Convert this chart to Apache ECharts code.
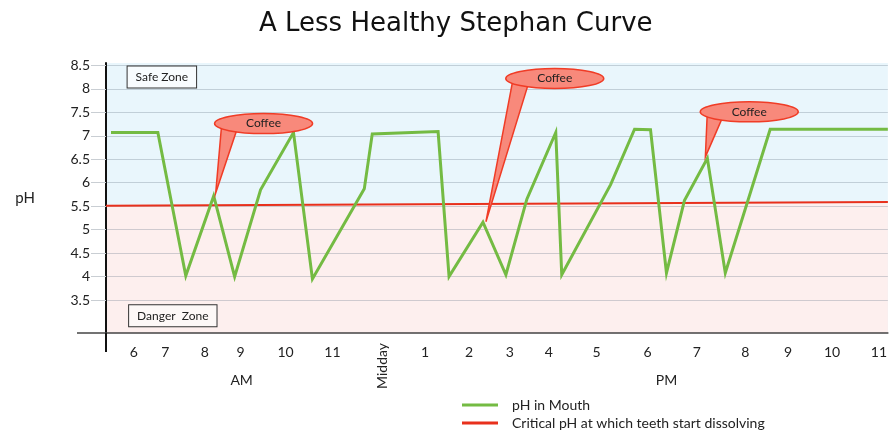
<!DOCTYPE html>
<html>
<head>
<meta charset="utf-8">
<script src="https://cdn.jsdelivr.net/npm/echarts@6/dist/echarts.min.js"></script>
<style>
  html, body { margin: 0; padding: 0; background: #fff; }
  #main { width: 890px; height: 432px; }
</style>
</head>
<body>
<div id="main"></div>
<script>
// x positions follow the hand-placed time labels of the original
var tickPos = [2.8, 5.95, 9.9, 13.5, 18.0, 22.7, 32.0, 36.4, 40.5, 44.4, 49.2, 54.3, 59.25, 64.1, 68.4, 72.8, 77.5];
var tickLabels = ['6', '7', '8', '9', '10', '11', '1', '2', '3', '4', '5', '6', '7', '8', '9', '10', '11'];
var middayPos = [27.75];
var periodPos = [13.6, 56.2];
var periodLabels = ['AM', 'PM'];
var yTicks = [3.5, 4, 4.5, 5, 5.5, 6, 6.5, 7, 7.5, 8, 8.5];

var phX = [0.5, 5.2, 8.0, 10.8, 12.9, 15.5, 18.8, 20.7, 25.9, 26.7, 33.3, 34.4, 37.8, 40.1, 42.2, 45.1, 45.7, 50.6, 53.0, 54.6, 56.2, 58.0, 60.3, 62.1, 66.6, 78.4];
var phY = [7.07, 7.07, 4.02, 5.72, 4.0, 5.85, 7.07, 3.95, 5.87, 7.04, 7.09, 4.0, 5.16, 4.04, 5.65, 7.07, 4.04, 5.96, 7.14, 7.13, 4.08, 5.62, 6.52, 4.08, 7.14, 7.14];

var critX = [0, 78.4];
var critY = [5.51, 5.59];

var coffeeTipX = [11.0, 38.1, 60.1];
var coffeeTipY = [5.78, 5.17, 6.55];
var coffeeBubbleX = [15.8, 45.0, 64.5];
var coffeeBubbleY = [7.26, 8.22, 7.51];

var FONT = 'Lato';
var xMin = 0, xMax = 78.4, yMin = 2.8, yMax = 8.55;

function pairs(xs, ys) {
    var out = [];
    for (var i = 0; i < xs.length; i++) out.push([xs[i], ys[i]]);
    return out;
}

function nearestLabel(v, pos, labels) {
    var best = 0;
    for (var i = 1; i < pos.length; i++) {
        if (Math.abs(pos[i] - v) < Math.abs(pos[best] - v)) best = i;
    }
    return labels[best];
}

function renderCoffee(params, api) {
    var tip = api.coord([api.value(0), api.value(1)]);
    var c = api.coord([api.value(2), api.value(3)]);
    var fill = '#f8897b', stroke = '#f03c26';
    return {
        type: 'group',
        children: [
            {type: 'polygon', shape: {points: [tip, [c[0] - 42, c[1] + 2], [c[0] - 26, c[1] + 4]]},
             style: {fill: fill, stroke: stroke, lineWidth: 1.5}},
            {type: 'ellipse', shape: {cx: c[0], cy: c[1], rx: 49, ry: 10},
             style: {fill: fill, stroke: stroke, lineWidth: 1.5}},
            {type: 'text', style: {x: c[0], y: c[1], text: 'Coffee', align: 'center', verticalAlign: 'middle',
             fill: '#222', font: '12px ' + FONT}}
        ]
    };
}

var coffeeData = [];
for (var i = 0; i < coffeeTipX.length; i++) {
    coffeeData.push([coffeeTipX[i], coffeeTipY[i], coffeeBubbleX[i], coffeeBubbleY[i]]);
}

var boxLabel = function (text, bg) {
    return {
        show: true, position: 'inside', formatter: text,
        color: '#222', fontFamily: FONT, fontSize: 12,
        backgroundColor: bg, borderColor: '#333', borderWidth: 1,
        padding: [5, 8, 4, 8]
    };
};

var chart = echarts.init(document.getElementById('main'));
var option = {
    animation: false,
    textStyle: {fontFamily: FONT},
    title: {
        text: 'A Less Healthy Stephan Curve',
        left: 254, top: 6,
        textStyle: {fontFamily: 'DejaVu Sans', fontSize: 26, fontWeight: 'normal', color: '#111'}
    },
    legend: {
        orient: 'vertical', left: 457, top: 393, height: 40,
        icon: 'rect', itemWidth: 36, itemHeight: 3, itemGap: 4,
        textStyle: {fontFamily: FONT, fontSize: 14, color: '#222', padding: [0, 0, 0, 9]},
        data: ['pH in Mouth', 'Critical pH at which teeth start dissolving']
    },
    grid: {
        left: 106, right: 0, top: 63, bottom: 99,
        show: true, backgroundColor: '#e9f6fc', borderWidth: 0, z: -5
    },
    xAxis: [{
        type: 'value', min: xMin, max: xMax,
        axisLine: {show: true, onZero: false, lineStyle: {color: '#444', width: 1.5}},
        axisTick: {show: false},
        splitLine: {show: false},
        axisLabel: {
            customValues: tickPos, margin: 12, color: '#222', fontSize: 14, fontFamily: FONT,
            formatter: function (v) { return nearestLabel(v, tickPos, tickLabels); }
        }
    }, {
        // Midday label stands upright, and the left axis runs on below the baseline
        type: 'value', min: xMin, max: xMax, position: 'bottom',
        axisLine: {show: false}, splitLine: {show: false},
        axisTick: {show: true, customValues: [xMin], length: 19, lineStyle: {color: '#111', width: 2}},
        axisLabel: {
            customValues: middayPos, rotate: 90, margin: 10, color: '#222', fontSize: 14, fontFamily: FONT,
            formatter: function () { return 'Midday'; }
        }
    }, {
        type: 'value', min: xMin, max: xMax, position: 'bottom',
        axisLine: {show: false}, axisTick: {show: false}, splitLine: {show: false},
        axisLabel: {
            customValues: periodPos, margin: 40, color: '#222', fontSize: 14, fontFamily: FONT,
            formatter: function (v) { return nearestLabel(v, periodPos, periodLabels); }
        }
    }],
    yAxis: [{
        type: 'value', min: yMin, max: yMax,
        name: 'pH', nameLocation: 'middle', nameRotate: 0, nameGap: 71,
        nameTextStyle: {fontFamily: FONT, fontSize: 15, color: '#222'},
        axisLine: {show: true, lineStyle: {color: '#111', width: 2}},
        axisTick: {show: true, customValues: yTicks, length: 15, lineStyle: {color: '#c9ced3'}},
        axisLabel: {customValues: yTicks, margin: 16, color: '#222', fontSize: 14, fontFamily: FONT},
        splitLine: {show: true, lineStyle: {color: 'rgba(120,135,150,0.35)', width: 1}}
    }, {
        // baseline runs a little past the left axis
        type: 'value', min: yMin, max: yMax, position: 'left',
        axisLine: {show: false}, splitLine: {show: false}, axisLabel: {show: false},
        axisTick: {show: true, customValues: [yMin], length: 29, lineStyle: {color: '#444', width: 1.5}}
    }],
    series: [{
        name: 'danger-fill',
        type: 'line', z: -1, silent: true,
        data: pairs(critX, critY),
        symbol: 'none',
        lineStyle: {width: 0},
        areaStyle: {color: '#fdefee', opacity: 1, origin: 'start'},
        markPoint: {
            symbol: 'rect', symbolSize: 0,
            data: [
                {coord: [5.6, 8.25], label: boxLabel('Safe Zone', '#f8fcfe')},
                {coord: [6.7, 3.17], label: boxLabel('Danger  Zone', '#fdf8f7')}
            ]
        }
    }, {
        name: 'Critical pH at which teeth start dissolving',
        type: 'line', z: 3,
        data: pairs(critX, critY),
        symbol: 'none',
        itemStyle: {color: '#e8301c'},
        lineStyle: {color: '#e8301c', width: 2}
    }, {
        name: 'pH in Mouth',
        type: 'line', z: 4,
        data: pairs(phX, phY),
        symbol: 'none',
        itemStyle: {color: '#74bb43'},
        lineStyle: {color: '#74bb43', width: 3, join: 'miter'}
    }, {
        name: 'coffee',
        type: 'custom', z: 5,
        renderItem: renderCoffee,
        encode: {x: 0, y: 1},
        clip: false,
        data: coffeeData
    }]
};
chart.setOption(option);
</script>
</body>
</html>
